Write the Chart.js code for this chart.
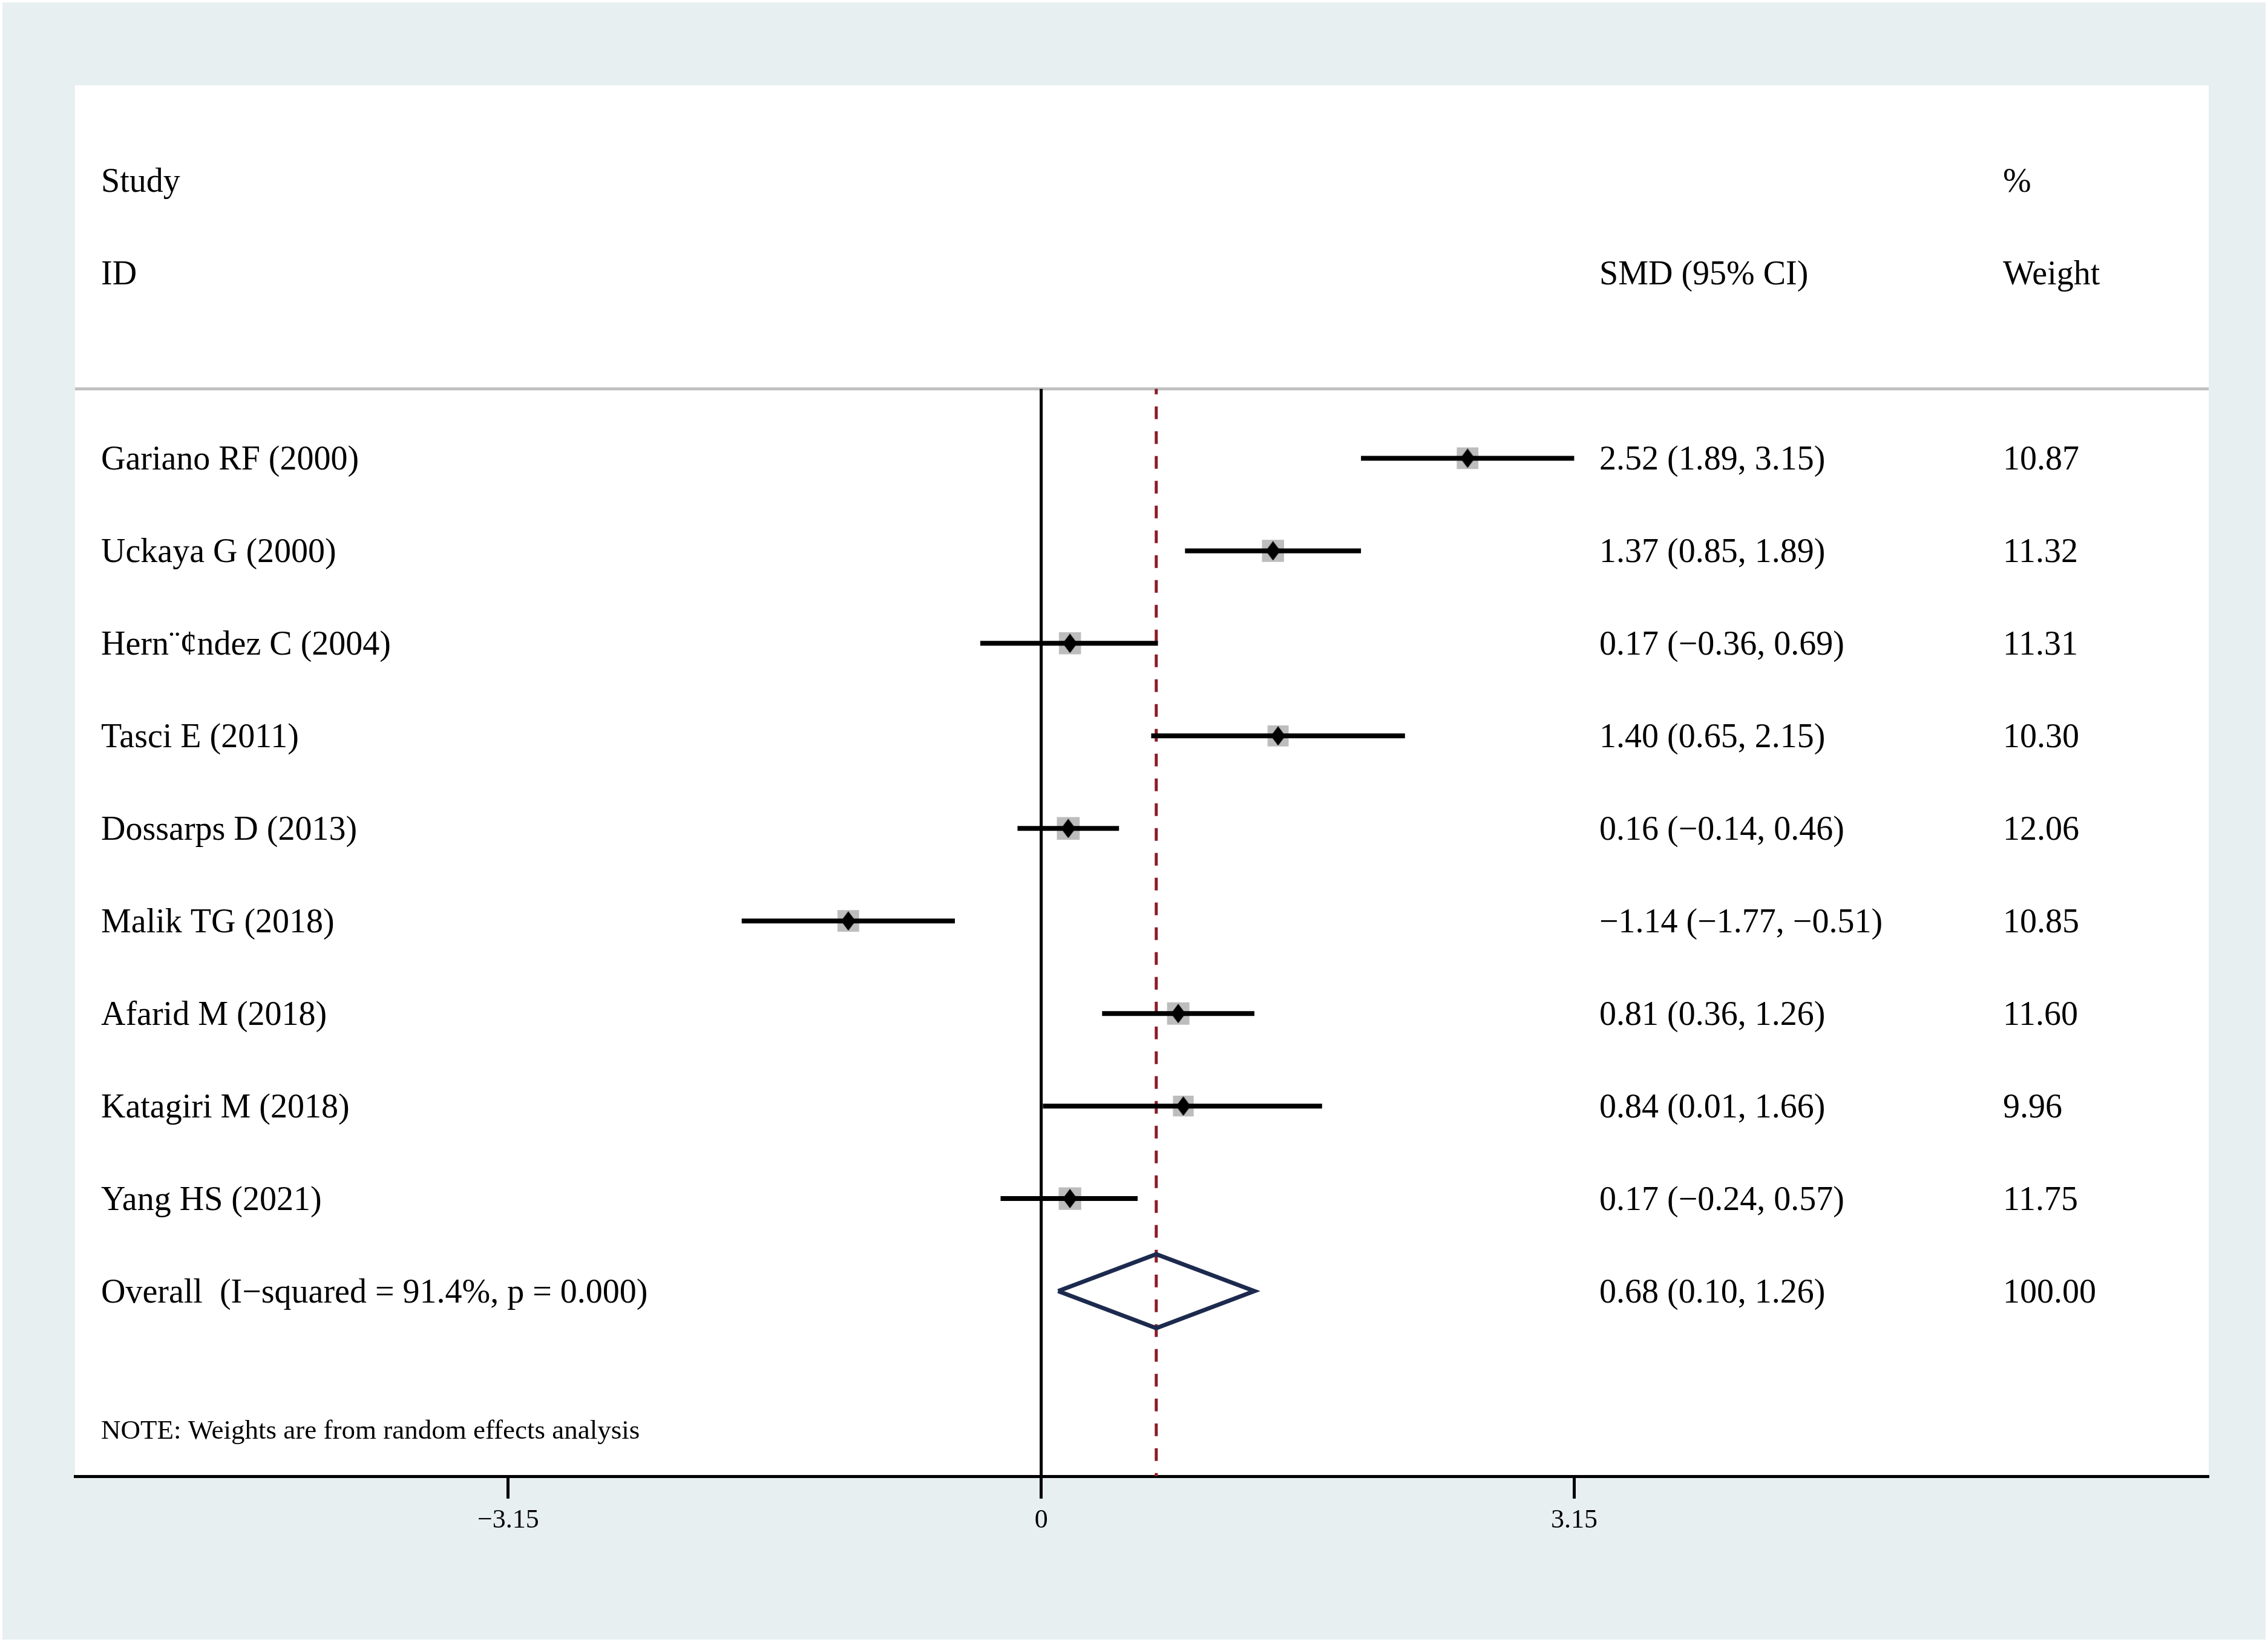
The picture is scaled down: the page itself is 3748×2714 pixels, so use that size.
<!DOCTYPE html>
<html>
<head>
<meta charset="utf-8">
<script src="https://cdn.jsdelivr.net/npm/chart.js@4.4.1/dist/chart.umd.min.js"></script>
<style>
  html, body { margin: 0; padding: 0; background: #fff; }
  canvas { display: block; }
</style>
</head>
<body>
<canvas id="forest" width="3748" height="2714"></canvas>
<script>
const studies = [
  'Gariano RF (2000)',
  'Uckaya G (2000)',
  'Hern\u00a8\u00a2ndez C (2004)',
  'Tasci E (2011)',
  'Dossarps D (2013)',
  'Malik TG (2018)',
  'Afarid M (2018)',
  'Katagiri M (2018)',
  'Yang HS (2021)',
]
const smd = [2.52, 1.37, 0.17, 1.40, 0.16, -1.14, 0.81, 0.84, 0.17]
const lower = [1.89, 0.85, -0.36, 0.65, -0.14, -1.77, 0.36, 0.01, -0.24]
const upper = [3.15, 1.89, 0.69, 2.15, 0.46, -0.51, 1.26, 1.66, 0.57]
const weights = [10.87, 11.32, 11.31, 10.30, 12.06, 10.85, 11.60, 9.96, 11.75]

const overallLabel = 'Overall  (I\u2212squared = 91.4%, p = 0.000)'
const overallSmd = 0.68
const overallLower = 0.10
const overallUpper = 1.26
const overallWeight = 100.00

const tickValues = [-3.15, 0, 3.15]
const noteText = 'NOTE: Weights are from random effects analysis'

// layout (pixels / row positions)
const SERIF = '"Liberation Serif", "Times New Roman", serif'
const COL_LABEL = 167
const COL_SMD = 2643
const COL_WEIGHT = 3310
const HEAD_ROW1 = -3
const HEAD_ROW2 = -2
const HEAD_LINE = -0.75
const OVERALL_ROW = studies.length
const NOTE_ROW = 10.5
const AXIS_ROW = 11

const fmt = v => v.toFixed(2).replace('-', '\u2212')

// black diamond marker
const diamond = document.createElement('canvas')
diamond.width = 24
diamond.height = 32
const dctx = diamond.getContext('2d')
dctx.fillStyle = '#000'
dctx.beginPath()
dctx.moveTo(12, 0)
dctx.lineTo(24, 16)
dctx.lineTo(12, 32)
dctx.lineTo(0, 16)
dctx.closePath()
dctx.fill()

const ciSets = studies.map((s, i) => ({
  data: [{ x: lower[i], y: i }, { x: upper[i], y: i }],
  showLine: true,
  borderColor: '#000',
  borderWidth: 8,
  pointRadius: 0,
  order: 2,
}))

const boxSet = {
  data: smd.map((v, i) => ({ x: v, y: i })),
  pointStyle: 'rect',
  pointRadius: weights.map(w => (36 * Math.sqrt(w / 11)) / Math.SQRT2),
  backgroundColor: '#bdbdbd',
  borderWidth: 0,
  order: 3,
}

const markerSet = {
  data: smd.map((v, i) => ({ x: v, y: i })),
  pointStyle: diamond,
  pointRadius: 12,
  order: 0,
}

const overallSet = {
  data: [
    { x: overallLower, y: OVERALL_ROW },
    { x: overallSmd, y: OVERALL_ROW - 0.4 },
    { x: overallUpper, y: OVERALL_ROW },
    { x: overallSmd, y: OVERALL_ROW + 0.4 },
    { x: overallLower, y: OVERALL_ROW },
  ],
  showLine: true,
  borderColor: '#1c2a4e',
  borderWidth: 7,
  borderJoinStyle: 'miter',
  pointRadius: 0,
  order: 1,
}

const zeroSet = {
  data: [{ x: 0, y: HEAD_LINE }, { x: 0, y: AXIS_ROW }],
  showLine: true,
  borderColor: '#000',
  borderWidth: 5,
  pointRadius: 0,
  order: 5,
}

const dashSet = {
  data: [{ x: overallSmd, y: HEAD_LINE }, { x: overallSmd, y: AXIS_ROW }],
  showLine: true,
  borderColor: '#8c1c28',
  borderWidth: 5,
  borderDash: [21, 20],
  borderDashOffset: 12,
  pointRadius: 0,
  order: 4,
}

const panelPlugin = {
  id: 'panel',
  beforeDraw(chart) {
    const { ctx, chartArea: a, width, height } = chart
    ctx.save()
    ctx.fillStyle = '#fff'
    ctx.fillRect(0, 0, width, height)
    ctx.fillStyle = '#e8eff1'
    ctx.fillRect(4, 4, width - 8, height - 8)
    ctx.fillStyle = '#fff'
    ctx.fillRect(a.left, a.top, a.right - a.left, a.bottom - a.top)
    ctx.restore()
  },
  beforeDatasetsDraw(chart) {
    const { ctx, chartArea: a } = chart
    const y = chart.scales.y.getPixelForValue(HEAD_LINE)
    ctx.save()
    ctx.strokeStyle = '#c0c0c0'
    ctx.lineWidth = 5
    ctx.beginPath()
    ctx.moveTo(a.left, y)
    ctx.lineTo(a.right, y)
    ctx.stroke()
    ctx.restore()
  },
  afterDraw(chart) {
    const { ctx } = chart
    const ys = chart.scales.y
    const row = (text, x, r, size) => {
      ctx.font = size + 'px ' + SERIF
      ctx.fillText(text, x, ys.getPixelForValue(r) + size * 0.331)
    }
    ctx.save()
    ctx.fillStyle = '#000'
    ctx.textAlign = 'left'
    ctx.textBaseline = 'alphabetic'
    row('Study', COL_LABEL, HEAD_ROW1, 56)
    row('ID', COL_LABEL, HEAD_ROW2, 56)
    row('SMD (95% CI)', COL_SMD, HEAD_ROW2, 56)
    row('%', COL_WEIGHT, HEAD_ROW1, 56)
    row('Weight', COL_WEIGHT, HEAD_ROW2, 56)
    studies.forEach((s, i) => {
      row(s, COL_LABEL, i, 56)
      row(`${fmt(smd[i])} (${fmt(lower[i])}, ${fmt(upper[i])})`, COL_SMD, i, 56)
      row(weights[i].toFixed(2), COL_WEIGHT, i, 56)
    })
    row(overallLabel, COL_LABEL, OVERALL_ROW, 56)
    row(`${fmt(overallSmd)} (${fmt(overallLower)}, ${fmt(overallUpper)})`, COL_SMD, OVERALL_ROW, 56)
    row(overallWeight.toFixed(2), COL_WEIGHT, OVERALL_ROW, 56)
    row(noteText, COL_LABEL, NOTE_ROW, 45)
    ctx.restore()
  },
}

new Chart(document.getElementById('forest'), {
  type: 'scatter',
  data: { datasets: [markerSet, overallSet, ...ciSets, boxSet, dashSet, zeroSet] },
  options: {
    responsive: false,
    animation: false,
    devicePixelRatio: 1,
    events: [],
    layout: { padding: { left: 124, right: 98, top: 141, bottom: 0 } },
    plugins: { legend: { display: false }, tooltip: { enabled: false } },
    scales: {
      x: {
        type: 'linear',
        min: -5.71,
        max: 6.9,
        afterBuildTicks: scale => {
          scale.ticks = tickValues.map(v => ({ value: v }))
        },
        afterFit: scale => {
          scale.height = 274
        },
        ticks: {
          color: '#000',
          font: { family: SERIF, size: 44 },
          padding: 10,
          maxRotation: 0,
          callback: v => fmt(v).replace('.00', '').replace('\u22120', '0'),
        },
        grid: {
          drawOnChartArea: false,
          drawTicks: true,
          tickLength: 37,
          tickWidth: 5,
          tickColor: '#000',
        },
        border: { display: true, color: '#000', width: 5 },
      },
      y: {
        type: 'linear',
        display: false,
        reverse: true,
        min: -4.03,
        max: AXIS_ROW,
      },
    },
  },
  plugins: [panelPlugin],
})
</script>
</body>
</html>
